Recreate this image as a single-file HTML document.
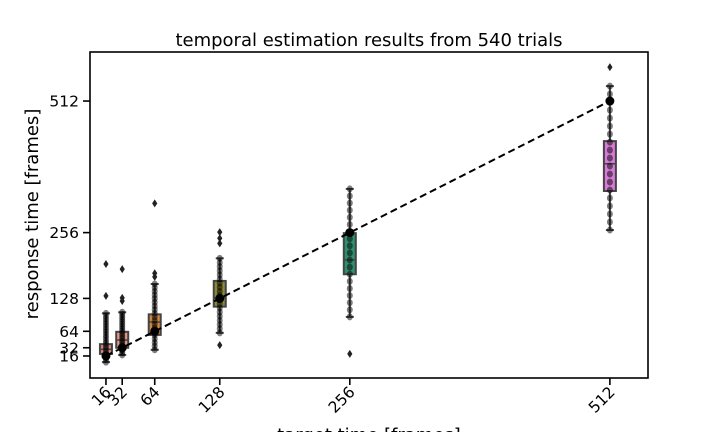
<!DOCTYPE html>
<html><head><meta charset="utf-8"><style>
html,body{margin:0;padding:0;background:#fff;width:720px;height:432px;overflow:hidden}
svg text{font-family:"DejaVu Sans","Liberation Sans",sans-serif;fill:#000}
</style></head><body>
<svg id="chart" width="720" height="432" viewBox="0 0 720 432" xmlns="http://www.w3.org/2000/svg">
<text x="369" y="46" font-size="18" text-anchor="middle">temporal estimation results from 540 trials</text>
<g id="plot"></g>
<text transform="translate(38,214) rotate(-90)" font-size="18" text-anchor="middle">response time [frames]</text>
<text x="369" y="441" font-size="18" text-anchor="middle">target time [frames]</text>
</svg>
<script>
const categories = [16, 32, 64, 128, 256, 512];
const q1 = [20, 32, 57, 112, 175, 337];
const medians = [29, 47, 82, 129, 203, 390];
const q3 = [39, 63, 97, 162, 255, 434];
const whiskerLow = [4, 18, 28, 61, 92, 261];
const whiskerHigh = [99, 101, 156, 206, 341, 541];
const outliers = [[133, 195], [123, 129, 185], [170, 177, 313], [37, 235, 245, 257], [20], [578]];
const colors = ["#d9847a", "#e39a86", "#d38a3e", "#8c8a34", "#2f9070", "#d87ad8"];
const yTicks = [16, 32, 64, 128, 256, 512];
const xTicks = [16, 32, 64, 128, 256, 512];

const X0 = 89.7, XS = 1.016, Y0 = 364.2, YS = 0.514;
const L = 90, R = 648, T = 52, B = 378;
function xScale(v){ return X0 + v * XS; }
function yScale(v){ return Y0 - v * YS; }

const NS = "http://www.w3.org/2000/svg";
const g = document.getElementById("plot");
function mk(tag, attrs, parent){
  const e = document.createElementNS(NS, tag);
  for (const k in attrs) e.setAttribute(k, attrs[k]);
  (parent || g).appendChild(e);
  return e;
}

const frame = mk("rect", {x:L, y:T, width:R-L, height:B-T, fill:"none", stroke:"#000", "stroke-width":1.6});



yTicks.forEach(v => {
  const y = yScale(v);
  const t = mk("line", {x1:L-7, x2:L, y1:y, y2:y, stroke:"#000", "stroke-width":1.6});
  
  
  const lb = mk("text", {x:L-11, y:y+5.5, "font-size":15.5, "text-anchor":"end"});
  lb.textContent = v;
  
  
});
xTicks.forEach(v => {
  const x = xScale(v);
  const t = mk("line", {x1:x, x2:x, y1:B, y2:B+7, stroke:"#000", "stroke-width":1.6});
  
  
  const lb = mk("text", {transform:"translate("+(x+6)+","+(B+15)+") rotate(-45)", "font-size":15.5, "text-anchor":"end"});
  lb.textContent = v;
  
  
});

const W = 12;
categories.forEach((c, i) => {
  const x = xScale(c);
  const grp = mk("g", {});
  
  
  mk("line", {x1:x, x2:x, y1:yScale(whiskerLow[i]), y2:yScale(q1[i]), stroke:"#444", "stroke-width":2}, grp);
  mk("line", {x1:x, x2:x, y1:yScale(q3[i]), y2:yScale(whiskerHigh[i]), stroke:"#444", "stroke-width":2}, grp);
  mk("line", {x1:x-4, x2:x+4, y1:yScale(whiskerLow[i]), y2:yScale(whiskerLow[i]), stroke:"#444", "stroke-width":2}, grp);
  mk("line", {x1:x-4, x2:x+4, y1:yScale(whiskerHigh[i]), y2:yScale(whiskerHigh[i]), stroke:"#444", "stroke-width":2}, grp);
  mk("rect", {x:x-W/2, y:yScale(q3[i]), width:W, height:yScale(q1[i])-yScale(q3[i]), fill:colors[i], stroke:"#444", "stroke-width":2}, grp);
  mk("line", {x1:x-W/2, x2:x+W/2, y1:yScale(medians[i]), y2:yScale(medians[i]), stroke:"#444", "stroke-width":1.5}, grp);
  const lo = whiskerLow[i], hi = whiskerHigh[i];
  const steps = 18;
  for (let k = 0; k <= steps; k++) {
    const v = lo + (hi - lo) * k / steps;
    mk("ellipse", {cx:x, cy:yScale(v), rx:3, ry:3.5, fill:"#000", "fill-opacity":0.5}, grp);
  }
  outliers[i].forEach(v => {
    const o = mk("path", {d:"M"+x+","+(yScale(v)-4)+" L"+(x+2.6)+","+yScale(v)+" L"+x+","+(yScale(v)+4)+" L"+(x-2.6)+","+yScale(v)+"Z", fill:"#222"}, grp);
    
    
  });
});

const idl = mk("line", {x1:xScale(categories[0]), y1:yScale(categories[0]), x2:xScale(categories[categories.length-1]), y2:yScale(categories[categories.length-1]), stroke:"#000", "stroke-width":2, "stroke-dasharray":"7,4"});


categories.forEach(c => {
  const m = mk("circle", {cx:xScale(c), cy:yScale(c), r:4.5, fill:"#000"});
  
  
});
</script>
</body></html>
